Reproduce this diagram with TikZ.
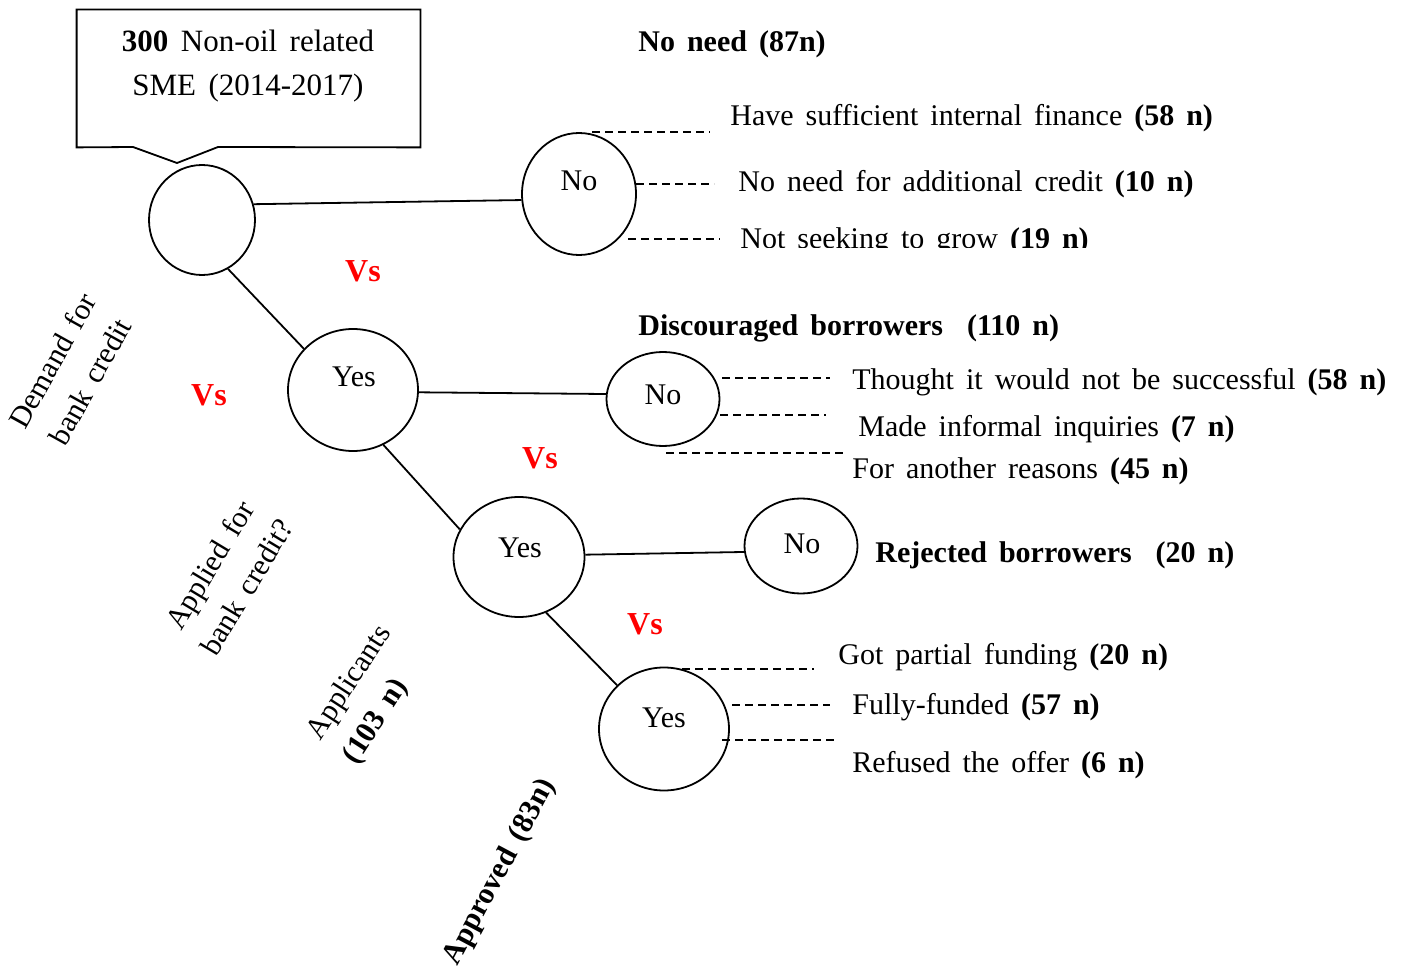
\documentclass[tikz,border=0pt]{standalone}
\usepackage{fontspec}
\setmainfont{Liberation Serif}[WordSpace=1.6]
\usetikzlibrary{shapes.geometric}
\begin{document}
\begin{tikzpicture}[x=0.5pt,y=-0.5pt,
  every node/.style={font=\fontsize{15}{18}\selectfont},
  bubble/.style={draw, ellipse, line width=0.9pt, inner sep=0pt},
  link/.style={line width=0.9pt},
  leader/.style={line width=0.8pt, dash pattern=on 4pt off 2.5pt},
  item/.style={anchor=west, inner sep=0pt},
  vs/.style={text=red, font=\fontsize{16}{19}\selectfont\bfseries},
  slanted/.style={align=center, font=\fontsize{15}{21.5}\selectfont}]
\useasboundingbox (0,0) rectangle (1403,973);

% callout
\node[minimum width=171.5pt, minimum height=68.5pt, inner sep=0pt] (callout) at (248.5,78.5) {};
\draw[line width=0.9pt] (callout.north west) -- (callout.north east) -- (callout.south east)
  -- (218,147) -- (177,163) -- (133,147) -- (callout.south west) -- cycle;
\node[align=center, font=\fontsize{15.5}{22}\selectfont] (calltext) at (248,66) {\textbf{300} Non-oil related\\SME (2014-2017)};

% circles
\node[bubble, minimum width=53pt, minimum height=55pt] (root) at (202,220) {};
\node[bubble, minimum width=57pt, minimum height=61pt] (no1) at (579,194) {};
\node[bubble, minimum width=65pt, minimum height=61pt] (yes1) at (353,390) {};
\node[bubble, minimum width=56.5pt, minimum height=47pt] (no2) at (663,399) {};
\node[bubble, minimum width=65.5pt, minimum height=60pt] (yes2) at (519,557) {};
\node[bubble, minimum width=56.5pt, minimum height=47.5pt] (no3) at (801,546) {};
\node[bubble, minimum width=65pt, minimum height=61.5pt] (yes3) at (664,729) {};

\node (no1t) at (579,181) {No};
\node (yes1t) at (354,377) {Yes};
\node (no2t) at (663,395) {No};
\node (yes2t) at (520,548) {Yes};
\node (no3t) at (802,544) {No};
\node (yes3t) at (664,718) {Yes};

% connectors
\draw[link] (root.17) -- (no1.186);
\draw[link] (root.-62) -- (yes1.140);
\draw[link] (yes1.-2) -- (no2.175);
\draw[link] (yes1.-61) -- (yes2.155);
\draw[link] (yes2.2) -- (no3.186);
\draw[link] (yes2.-64) -- (yes3.137);

% leaders
\draw[leader] (592,132) -- (710,132);
\draw[leader] (636,184) -- (714,184);
\draw[leader] (628,239) -- (720,239);
\draw[leader] (722,378) -- (830,378);
\draw[leader] (720,415) -- (826,415);
\draw[leader] (666,453) -- (845,453);
\draw[leader] (682,669) -- (814,669);
\draw[leader] (732,705) -- (830,705);
\draw[leader] (722,740) -- (838,740);

% headings and items
\node[item, font=\fontsize{15}{18}\selectfont\bfseries] (noneed) at (638,44) {No need (87n)};
\node[item] (i1) at (730,118) {Have sufficient internal finance \textbf{(58 n)}};
\node[item] (i2) at (738,184) {No need for additional credit \textbf{(10 n)}};
\begin{scope}
\clip (600,200) rectangle (1200,248);
\node[item] (i3) at (740,241) {Not seeking to grow \textbf{(19 n)}};
\end{scope}

\node[item, font=\fontsize{15}{18}\selectfont\bfseries] (disc) at (638,328) {Discouraged borrowers \ (110 n)};
\node[item] (i4) at (852,382) {Thought it would not be successful \textbf{(58 n)}};
\node[item] (i5) at (858,429) {Made informal inquiries \textbf{(7 n)}};
\node[item] (i6) at (852,471) {For another reasons \textbf{(45 n)}};

\node[item, font=\fontsize{15}{18}\selectfont\bfseries] (rej) at (875,555) {Rejected borrowers \ (20 n)};

\node[item] (i7) at (838,657) {Got partial funding \textbf{(20 n)}};
\node[item] (i8) at (852,707) {Fully-funded \textbf{(57 n)}};
\node[item] (i9) at (852,765) {Refused the offer \textbf{(6 n)}};

% Vs
\node[vs] (vs1) at (363,271) {Vs};
\node[vs] (vs2) at (209,395) {Vs};
\node[vs] (vs3) at (540,458) {Vs};
\node[vs] (vs4) at (645,624) {Vs};

% rotated labels
\node[slanted, rotate=61] (demand) at (71,371) {Demand for\\bank credit};
\node[slanted, rotate=59] (applied) at (228,576) {Applied for\\bank credit?};
\node[slanted, rotate=57, align=left] (applicants) at (368,695) {Applicants\\\textbf{(103 n)}};
\node[font=\fontsize{15}{18}\selectfont\bfseries, rotate=62] (approved) at (500,872) {Approved (83n)};
\end{tikzpicture}
\end{document}
